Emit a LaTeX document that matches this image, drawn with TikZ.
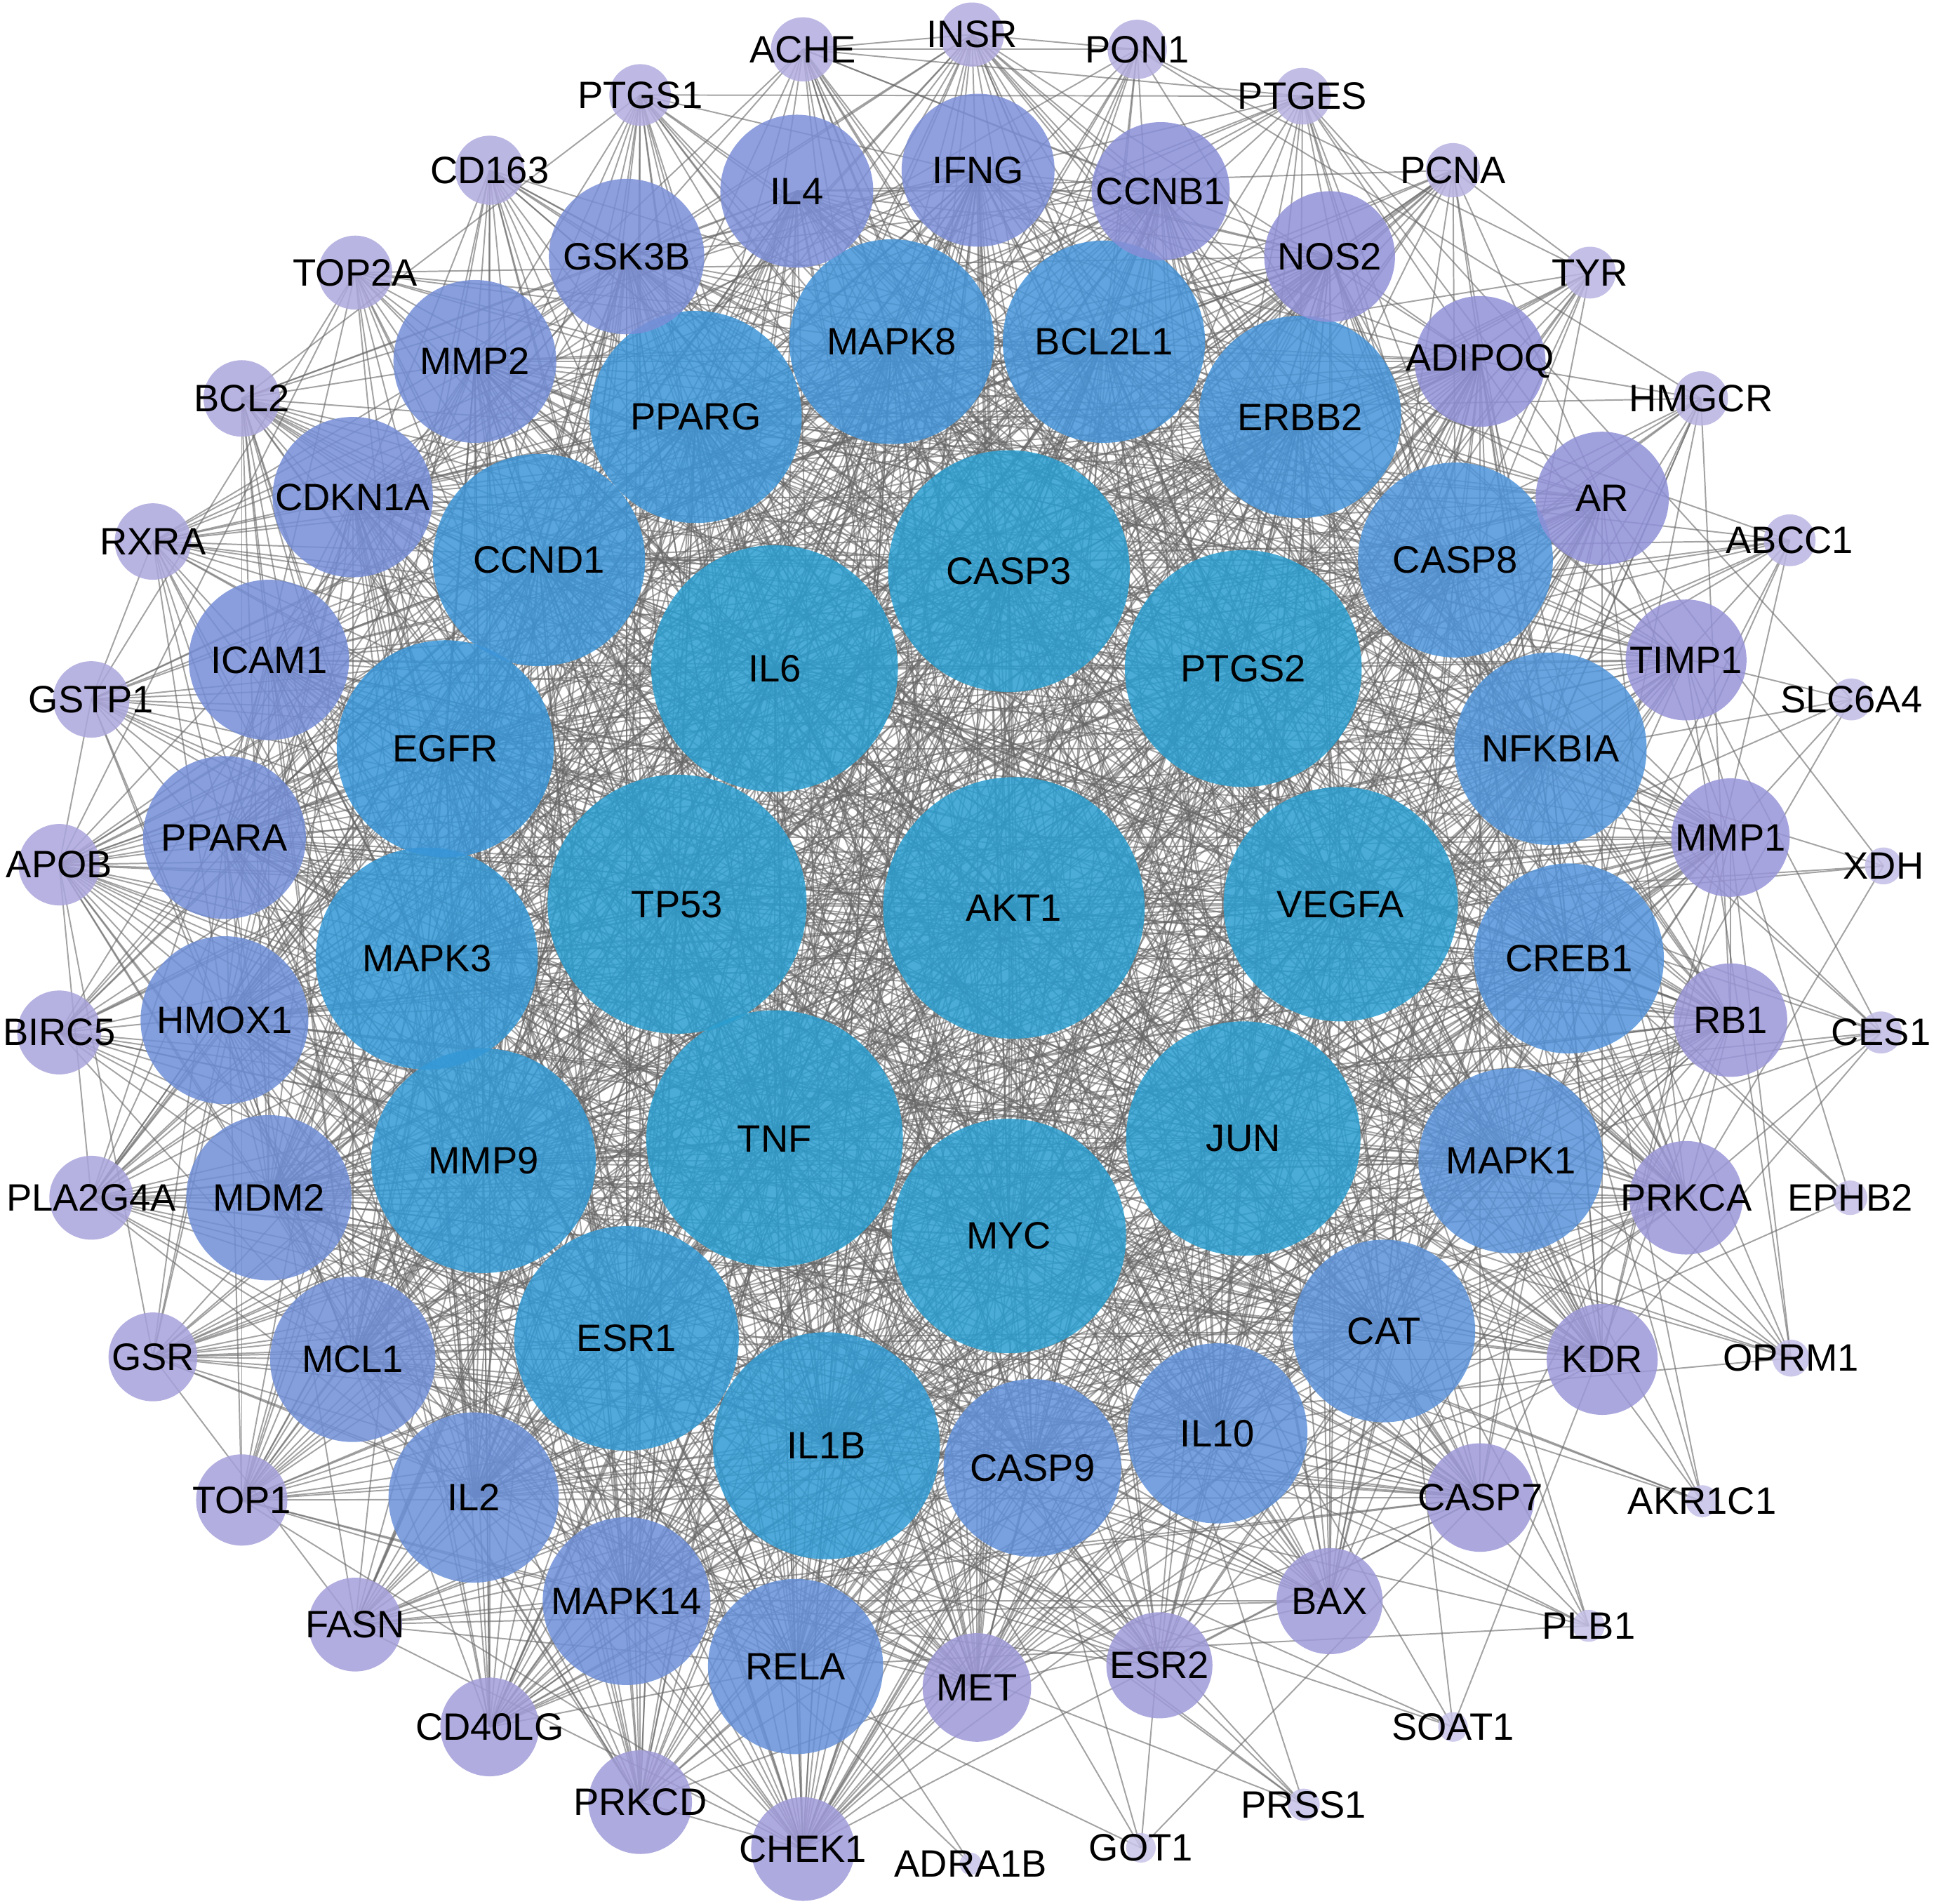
\documentclass[tikz,border=0pt]{standalone}
\usepackage{fontspec}
\setmainfont{Liberation Sans}
\usetikzlibrary{backgrounds}
\definecolor{cA}{RGB}{42,158,208}
\definecolor{cB}{RGB}{56,149,216}
\definecolor{cC}{RGB}{80,148,218}
\definecolor{cD}{RGB}{115,141,215}
\definecolor{cE}{RGB}{146,144,215}
\definecolor{cF}{RGB}{162,157,217}
\definecolor{cG}{RGB}{178,173,223}
\definecolor{cH}{RGB}{200,195,233}
\newcommand\setgenecolor[1]{%
  \pgfmathsetmacro\gr{#1}%
  \ifdim\gr pt>95pt \colorlet{gcol}{cA}%
  \else\ifdim\gr pt>88pt \pgfmathtruncatemacro\gm{100*(\gr-88)/7}\colorlet{gcol}{cA!\gm!cB}%
  \else\ifdim\gr pt>78pt \pgfmathtruncatemacro\gm{100*(\gr-78)/10}\colorlet{gcol}{cB!\gm!cC}%
  \else\ifdim\gr pt>66pt \pgfmathtruncatemacro\gm{100*(\gr-66)/12}\colorlet{gcol}{cC!\gm!cD}%
  \else\ifdim\gr pt>52pt \pgfmathtruncatemacro\gm{100*(\gr-52)/14}\colorlet{gcol}{cD!\gm!cE}%
  \else\ifdim\gr pt>40pt \pgfmathtruncatemacro\gm{100*(\gr-40)/12}\colorlet{gcol}{cE!\gm!cF}%
  \else\ifdim\gr pt>25pt \pgfmathtruncatemacro\gm{100*(\gr-25)/15}\colorlet{gcol}{cF!\gm!cG}%
  \else \pgfmathtruncatemacro\gm{max(0,100*(\gr-12)/13)}\colorlet{gcol}{cG!\gm!cH}%
  \fi\fi\fi\fi\fi\fi\fi}
\def\genelist{%
AKT1/822/736/106,%
TP53/549/733/105,%
TNF/628/923/104,%
IL6/628/542/100,%
CASP3/818/463/98,%
PTGS2/1008/542/96,%
VEGFA/1087/733/95,%
JUN/1008/923/95,%
MYC/818/1002/95,%
IL1B/670/1172/92,%
ESR1/508/1085/91,%
MMP9/392/941/91,%
MAPK3/346/777/90,%
EGFR/361/607/88,%
CCND1/437/454/86,%
PPARG/564/338/86,%
MAPK8/723/277/83,%
BCL2L1/895/277/82,%
ERBB2/1054/338/82,%
CASP8/1180/454/79,%
NFKBIA/1257/607/78,%
CREB1/1272/777/77,%
MAPK1/1225/941/75,%
CAT/1122/1079/74,%
IL10/987/1162/73,%
CASP9/837/1190/72,%
RELA/645/1351/71,%
MAPK14/508/1298/68,%
IL2/384/1214/69,%
MCL1/286/1102/67,%
MDM2/218/971/67,%
HMOX1/182/827/68,%
PPARA/182/679/66,%
ICAM1/218/535/65,%
CDKN1A/286/403/65,%
MMP2/385/293/66,%
GSK3B/508/208/63,%
IL4/646/155/62,%
IFNG/793/138/62,%
CCNB1/941/155/56,%
NOS2/1078/208/53,%
ADIPOQ/1200/293/53,%
AR/1299/404/54,%
TIMP1/1367/535/49,%
MMP1/1403/679/48,%
RB1/1403/827/46,%
PRKCA/1367/971/46,%
KDR/1299/1102/45,%
CASP7/1200/1214/44,%
BAX/1078/1298/43,%
ESR2/940/1350/43,%
MET/792/1368/44,%
CHEK1/651/1499/42,%
PRKCD/519/1461/42,%
CD40LG/397/1400/40,%
FASN/288/1317/38,%
TOP1/196/1216/37,%
GSR/124/1100/36,%
PLA2G4A/74/971/34,%
BIRC5/48/837/34,%
APOB/48/701/33,%
GSTP1/74/567/31,%
RXRA/124/439/31,%
BCL2/196/323/31,%
TOP2A/288/221/30,%
CD163/397/138/28,%
PTGS1/519/77/25,%
ACHE/651/40/26,%
INSR/788/28/26,%
PON1/922/40/24,%
PTGES/1056/78/23,%
PCNA/1178/138/22,%
TYR/1289/221/21,%
HMGCR/1379/323/22,%
ABCC1/1451/438/21,%
SLC6A4/1501/567/17,%
XDH/1527/702/15,%
CES1/1525/837/17,%
EPHB2/1500/971/14,%
OPRM1/1452/1101/15,%
AKR1C1/1380/1217/13,%
PLB1/1288/1318/13,%
SOAT1/1178/1400/12,%
PRSS1/1057/1463/13,%
GOT1/925/1498/12,%
ADRA1B/787/1511/9}
\tikzset{
  genenode/.style={circle, draw=none, inner sep=0pt, fill opacity=0.85},
  genelabel/.style={inner sep=0pt, text=black, font=\fontsize{8.8}{10}\selectfont},
  ppiedge/.style={draw=black!60, line width=0.32pt, opacity=0.6},
}
\begin{document}
\begin{tikzpicture}[x=0.1mm, y=-0.1mm]
\useasboundingbox (0,0) rectangle (1568,1543);
% nodes
\foreach \n/\x/\y/\r [count=\i] in \genelist {
  \setgenecolor{\r}
  \node[genenode, fill=gcol, minimum size=\r*0.2mm] (\n) at (\x,\y) {};
  \pgfmathsetmacro\dd{0.8*(\r-6)}
  \expandafter\xdef\csname gn\i\endcsname{\n}
  \expandafter\xdef\csname gd\i\endcsname{\dd}
}
% edges
\begin{pgfonlayer}{background}
\pgfmathsetseed{271828}
\foreach \i in {1,...,85} {
  \pgfmathtruncatemacro\js{\i+1}
  \foreach \j in {\js,...,86} {
    \edef\da{\csname gd\i\endcsname}\edef\db{\csname gd\j\endcsname}
    \pgfmathsetmacro\pp{\da*\db/2900}
    \pgfmathsetmacro\uu{rnd}
    \ifdim\uu pt<\pp pt\relax
      \edef\na{\csname gn\i\endcsname}\edef\nb{\csname gn\j\endcsname}
      \draw[ppiedge] (\na.center) -- (\nb.center);
    \fi
  }
}
\draw[ppiedge] (ACHE.center) -- (PON1.center);
\draw[ppiedge] (PTGS1.center) -- (PTGES.center);
\end{pgfonlayer}
% labels
\foreach \n/\x/\y/\r in \genelist {
  \node[genelabel] (\n-t) at (\n.center) {\n};
}
\end{tikzpicture}
\end{document}
